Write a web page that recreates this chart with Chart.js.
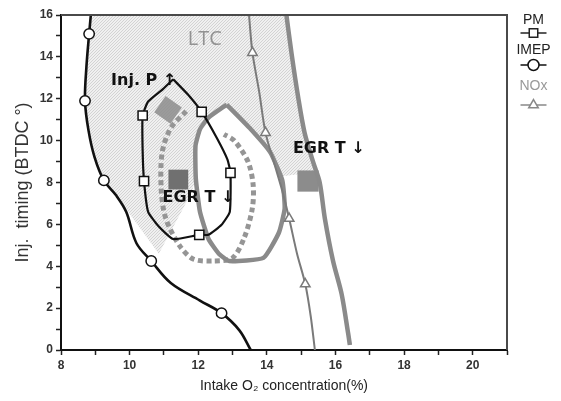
<!DOCTYPE html>
<html>
<head>
<meta charset="utf-8">
<script src="https://cdn.jsdelivr.net/npm/chart.js@4"></script>
<style>
  html, body { margin: 0; padding: 0; background: #fff; }
  #wrap { width: 561px; height: 401px; }
</style>
</head>
<body>
<div id="wrap"><canvas id="c" width="561" height="401"></canvas></div>
<script>
// Operating-range map: intake O2 concentration vs injection timing

// IMEP limit (circles)
const imepCurve = [[8.87,16],[8.82,15.1],[8.74,13.5],[8.70,11.9],[8.80,10.5],[8.98,9.2],[9.25,8.1],[9.6,7.4],[9.9,6.6],[10.2,5.1],[10.63,4.25],[11.2,3.2],[12.05,2.36],[12.68,1.76],[13.2,0.94],[13.53,0]];
const imepMarks = [[8.82,15.1],[8.70,11.9],[9.25,8.1],[10.63,4.25],[12.68,1.76]];

// PM contour (squares), closed loop
const pmLoop = [[11.27,12.93],[11.7,12.2],[12.1,11.37],[12.55,10.1],[12.85,9.1],[12.94,8.46],[12.92,6.6],[12.68,5.98],[12.3,5.5],[12.03,5.5],[11.27,5.3],[10.85,5.9],[10.54,6.6],[10.42,8.07],[10.38,9.5],[10.38,11.2],[10.54,11.87],[10.97,12.46],[11.27,12.93]];
const pmMarks = [[12.1,11.37],[12.94,8.46],[12.03,5.5],[10.42,8.07],[10.38,11.2]];

// NOx limit (triangles)
const noxCurve = [[13.48,16],[13.58,14.2],[13.78,12.3],[13.96,10.38],[14.2,9.0],[14.45,7.6],[14.65,6.28],[14.88,4.6],[15.12,3.15],[15.28,1.6],[15.4,0]];
const noxMarks = [[13.58,14.2],[13.96,10.38],[14.65,6.28],[15.12,3.15]];

// EGR temperature boundaries
const egrOuter = [[14.57,16],[14.72,14.16],[14.91,12.1],[15.1,10.38],[15.35,8.97],[15.54,8.0],[15.69,6.29],[15.93,4.25],[16.18,2.67],[16.37,0.79],[16.42,0.24]];
const egrInner = [[12.83,11.72],[13.5,10.6],[14.1,9.44],[14.45,8.1],[14.52,6.76],[14.35,5.6],[13.9,4.4],[12.9,4.25],[12.6,4.6],[12.3,5.3],[12.05,6.6],[11.93,8.18],[11.92,9.75],[12.05,10.54],[12.3,11.1],[12.83,11.72]];

// Injection pressure shifted boundary (dotted)
const injPCurve = [[11.65,11.4],[11.2,10.6],[10.95,9.45],[10.92,7.7],[11.05,6.3],[11.45,5.0],[11.85,4.35],[12.45,4.25],[13.0,4.4],[13.35,5.4],[13.58,6.8],[13.6,7.9],[13.45,9.0],[13.05,10.0],[12.75,10.3]];

// LTC region outline
const ltcRegion = [[8.87,16],[14.57,16],[14.72,14.16],[14.91,12.1],[15.1,10.38],[15.35,8.97],[15.45,8.5],[14.45,8.3],[14.28,9.12],[13.7,10.3],[12.83,11.72],[12.3,11.1],[12.05,10.54],[11.92,9.75],[11.93,8.18],[11.8,7.5],[10.85,4.6],[9.6,7.4],[9.25,8.1],[8.98,9.2],[8.80,10.5],[8.70,11.9],[8.74,13.5],[8.82,15.1],[8.87,16]];

// Shift markers
const injPBox = [[11.12,11.47]];
const egrBoxLow = [[11.42,8.14]];
const egrBoxRight = [[15.2,8.07]];

// Axis ranges / ticks
const xRange = [8, 21];
const yRange = [0, 16];
const xLabelTicks = [8, 10, 12, 14, 16, 18, 20];
const yLabelTicks = [0, 2, 4, 6, 8, 10, 12, 14, 16];

const pts = a => a.map(([x, y]) => ({x, y}));

// Labels placed in data coordinates
const notes = [
  {text: 'LTC', x: 12.19, y: 14.82, font: '500 20px "Open Sans", "Liberation Sans", Arial, sans-serif', color: '#929292', align: 'center'},
  {text: 'Inj. P \u2191', x: 9.46, y: 12.84, font: 'bold 16px "DejaVu Sans", sans-serif', color: '#111', align: 'left'},
  {text: 'EGR T \u2193', x: 10.96, y: 7.27, font: 'bold 16px "DejaVu Sans", sans-serif', color: '#111', align: 'left'},
  {text: 'EGR T \u2193', x: 14.76, y: 9.6, font: 'bold 16px "DejaVu Sans", sans-serif', color: '#111', align: 'left'}
];

function hatchPattern() {
  const c = document.createElement('canvas');
  c.width = 3; c.height = 3;
  const g = c.getContext('2d');
  g.fillStyle = '#f0f0f0';
  g.fillRect(0, 0, 3, 3);
  g.strokeStyle = '#d3d3d3';
  g.lineWidth = 1;
  g.beginPath();
  g.moveTo(0, 3); g.lineTo(3, 0);
  g.moveTo(-1, 1); g.lineTo(1, -1);
  g.moveTo(2, 4); g.lineTo(4, 2);
  g.stroke();
  return g.createPattern(c, 'repeat');
}

const frameAndNotes = {
  id: 'frameAndNotes',
  afterDatasetsDraw(chart) {
    const {ctx, chartArea: a, scales: {x, y}} = chart;
    ctx.save();
    notes.forEach(n => {
      ctx.font = n.font;
      ctx.fillStyle = n.color;
      ctx.textAlign = n.align;
      ctx.textBaseline = 'middle';
      ctx.fillText(n.text, x.getPixelForValue(n.x), y.getPixelForValue(n.y));
    });
    // top and right frame
    ctx.strokeStyle = '#4a4a4a';
    ctx.lineWidth = 2;
    ctx.beginPath();
    ctx.moveTo(a.left, a.top);
    ctx.lineTo(a.right, a.top);
    ctx.lineTo(a.right, a.bottom);
    ctx.stroke();
    ctx.restore();
  },
  afterDraw(chart) {
    const {ctx, chartArea: a} = chart;
    const cx = a.right + 26.5;
    ctx.save();
    ctx.font = '14px "Liberation Sans", Arial, sans-serif';
    ctx.textAlign = 'center';
    ctx.textBaseline = 'middle';
    const entries = [
      {label: 'PM', color: '#222', textColor: '#222', style: 'rect', ty: 20, ly: 33},
      {label: 'IMEP', color: '#111', textColor: '#222', style: 'circle', ty: 50, ly: 65},
      {label: 'NOx', color: '#888', textColor: '#999', style: 'triangle', ty: 86, ly: 105}
    ];
    entries.forEach(e => {
      ctx.fillStyle = e.textColor;
      ctx.fillText(e.label, cx, e.ty);
      ctx.strokeStyle = e.color;
      ctx.lineWidth = 1.5;
      ctx.beginPath();
      ctx.moveTo(cx - 13, e.ly);
      ctx.lineTo(cx + 13, e.ly);
      ctx.stroke();
      const r = e.style === 'rect' ? 6 : 5.5;
      ctx.fillStyle = '#fff';
      ctx.beginPath();
      if (e.style === 'circle') {
        ctx.arc(cx, e.ly, r, 0, Math.PI * 2);
      } else if (e.style === 'rect') {
        const s = r * Math.SQRT1_2;
        ctx.rect(cx - s, e.ly - s, 2 * s, 2 * s);
      } else {
        for (let i = 0; i < 3; i++) {
          const ang = i * 2 * Math.PI / 3;
          const px = cx + Math.sin(ang) * r, py = e.ly - Math.cos(ang) * r;
          i ? ctx.lineTo(px, py) : ctx.moveTo(px, py);
        }
        ctx.closePath();
      }
      ctx.fill();
      ctx.stroke();
    });
    ctx.restore();
  }
};

const lineDs = (data, color, width, extra) => Object.assign({
  data: pts(data), showLine: true, borderColor: color, borderWidth: width,
  pointRadius: 0, pointHoverRadius: 0, fill: false, tension: 0.25
}, extra || {});

const markDs = (data, style, color, r, order) => ({
  data: pts(data), showLine: false, pointStyle: style, pointRadius: r, pointHoverRadius: r,
  pointBackgroundColor: '#fff', pointBorderColor: color, pointBorderWidth: 1.5, order
});

const boxDs = (data, color, r, rot, order) => ({
  data: pts(data), showLine: false, pointStyle: 'rect', pointRadius: r, pointHoverRadius: r,
  pointRotation: rot, pointBackgroundColor: color, pointBorderWidth: 0, order
});

new Chart(document.getElementById('c'), {
  type: 'scatter',
  data: {
    datasets: [
      lineDs(ltcRegion, 'rgba(0,0,0,0)', 0, {fill: 'shape', backgroundColor: hatchPattern(), tension: 0, order: 20}),
      boxDs(injPBox, 'rgba(140,140,140,0.85)', 14, 35, 15),
      boxDs(egrBoxLow, '#707070', 14, 0, 15),
      boxDs(egrBoxRight, '#8c8c8c', 15, 0, 15),
      lineDs(injPCurve, '#959595', 5, {borderDash: [5, 3.5], tension: 0.3, order: 10}),
      lineDs(egrInner, '#8a8a8a', 4.5, {tension: 0.15, order: 9}),
      lineDs(egrOuter, '#8a8a8a', 4.5, {tension: 0.3, order: 9}),
      lineDs(noxCurve, '#7a7a7a', 2, {tension: 0.3, order: 8}),
      lineDs(pmLoop, '#111', 2.2, {tension: 0.15, order: 5}),
      lineDs(imepCurve, '#111', 2.6, {tension: 0.35, order: 5}),
      markDs(pmMarks, 'rect', '#111', 6.5, 1),
      markDs(imepMarks, 'circle', '#111', 5.2, 1),
      markDs(noxMarks, 'triangle', '#7a7a7a', 5.5, 1)
    ]
  },
  options: {
    responsive: false,
    animation: false,
    events: [],
    layout: {padding: {left: 0, right: 54, top: 11, bottom: 0}},
    plugins: {legend: {display: false}, tooltip: {enabled: false}},
    scales: {
      x: {
        type: 'linear', min: xRange[0], max: xRange[1],
        border: {color: '#111', width: 2},
        grid: {drawOnChartArea: false, drawTicks: true, tickLength: 5, tickColor: '#222', tickWidth: 1.5},
        ticks: {
          stepSize: 1, padding: 3, color: '#333', maxRotation: 0, autoSkip: false,
          font: {family: '"Liberation Sans", Arial, sans-serif', size: 12, weight: 'bold'},
          callback: v => xLabelTicks.includes(v) ? String(v) : ''
        },
        title: {display: true, text: 'Intake O\u2082 concentration(%)', color: '#222',
          font: {family: '"Liberation Sans", Arial, sans-serif', size: 14}, padding: {top: 0, bottom: 6}},
        afterFit: s => { s.height = 51; }
      },
      y: {
        type: 'linear', min: yRange[0], max: yRange[1],
        border: {color: '#111', width: 2},
        grid: {drawOnChartArea: false, drawTicks: true, tickLength: 5, tickColor: '#222', tickWidth: 1.5},
        ticks: {
          stepSize: 1, padding: 3, color: '#333', autoSkip: false,
          font: {family: '"Liberation Sans", Arial, sans-serif', size: 12, weight: 'bold'},
          callback: v => yLabelTicks.includes(v) ? String(v) : ''
        },
        title: {display: true, text: 'Inj.  timing (BTDC \u00B0)', color: '#333',
          font: {family: '"Liberation Sans", Arial, sans-serif', size: 18}, padding: {top: 12, bottom: 0}},
        afterFit: s => { s.width = 61; }
      }
    }
  },
  plugins: [frameAndNotes]
});
</script>
</body>
</html>
